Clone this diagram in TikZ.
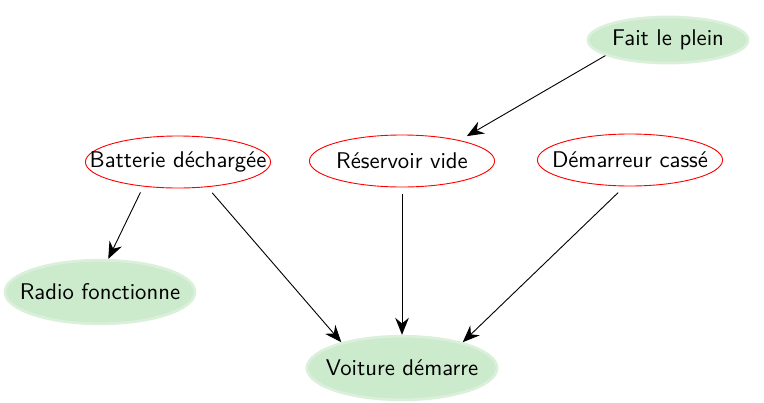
\documentclass[tikz,border=0pt]{standalone}
\usepackage{fontspec}
\usetikzlibrary{shapes.geometric,arrows.meta}
\renewcommand{\familydefault}{\sfdefault}
\definecolor{obsgreen}{RGB}{204,234,204}
\newcommand{\etiq}[1]{\makebox[0pt]{#1}}
\tikzset{
  cause/.style={ellipse, draw=red, thin, inner sep=0pt, minimum width=81.5pt, minimum height=22.9pt, outer sep=3pt},
  effet/.style={ellipse, fill=obsgreen, draw=obsgreen!70, line width=1.2pt, inner sep=0pt, minimum width=83.7pt, minimum height=28pt},
  lien/.style={-{Stealth[length=7.5pt,width=6pt,inset=2.5pt]}, thin}
}
\begin{document}
\begin{tikzpicture}[x=0.01548cm, y=-0.01548cm]
  \useasboundingbox (0,0) rectangle (764,403);
  \node[effet, minimum width=70.5pt, minimum height=20.3pt] (plein) at (668,40) {\etiq{Fait le plein}};
  \node[cause] (batterie) at (178,162) {\etiq{Batterie déchargée}};
  \node[cause] (reservoir) at (402,161) {\etiq{Réservoir vide}};
  \node[cause] (demarreur) at (630,160) {\etiq{Démarreur cassé}};
  \node[effet] (radio) at (100,292) {\etiq{Radio fonctionne}};
  \node[effet] (voiture) at (402,368) {\etiq{Voiture démarre}};
  \begin{scope}[lien]
    \draw (plein.-166) to (reservoir.21);
    \draw (batterie.-141) to (radio.76);
    \draw (batterie.-42) to (voiture.157);
    \draw (reservoir.-90) to (voiture.90);
    \draw (demarreur.-110) to (voiture.23);
  \end{scope}
\end{tikzpicture}
\end{document}
